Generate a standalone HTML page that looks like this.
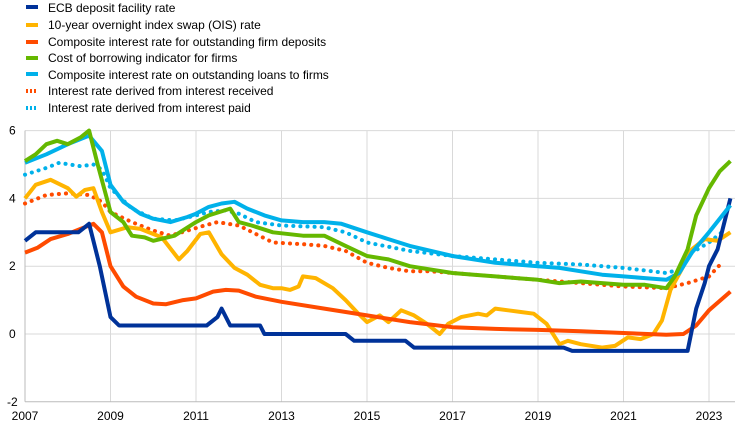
<!DOCTYPE html>
<html><head><meta charset="utf-8"><style>
body{margin:0;background:#fff;}
svg{display:block;font-family:"Liberation Sans",Arial,sans-serif;}
</style></head><body>
<svg id="c" width="744" height="428" xmlns="http://www.w3.org/2000/svg">
<g font-size="12" fill="#000">
<rect x="26" y="5" width="12" height="4" fill="#003299"/><text x="48" y="12">ECB deposit facility rate</text>
<rect x="26" y="23" width="12" height="4" fill="#FFB400"/><text x="48" y="29">10-year overnight index swap (OIS) rate</text>
<rect x="26" y="40" width="12" height="4" fill="#FF4B00"/><text x="48" y="46">Composite interest rate for outstanding firm deposits</text>
<rect x="26" y="56" width="12" height="4" fill="#65B800"/><text x="48" y="62">Cost of borrowing indicator for firms</text>
<rect x="26" y="72" width="12" height="4" fill="#00B1EA"/><text x="48" y="79">Composite interest rate on outstanding loans to firms</text>
<line x1="26" y1="91" x2="38" y2="91" stroke="#FF4B00" stroke-width="4" stroke-dasharray="2 2"/><text x="48" y="95">Interest rate derived from interest received</text>
<line x1="26" y1="108" x2="38" y2="108" stroke="#00B1EA" stroke-width="4" stroke-dasharray="2 2"/><text x="48" y="112">Interest rate derived from interest paid</text>
</g>
<g id="grid" stroke="#d9d9d9" stroke-width="1"></g>
<g id="lab" font-size="12" fill="#000"></g>
<g id="ser" fill="none" stroke-linejoin="round"></g>
</svg>
<script>
var X=function(t){return 25+(t-2007)*42.75},Y=function(v){return 334-v*33.9};
var g=document.getElementById('grid'),l=document.getElementById('lab'),s=document.getElementById('ser');
var h='';
for(var v=-2;v<=6;v+=2){if(v>-2)h+='<line x1="25" x2="735" y1="'+Y(v)+'" y2="'+Y(v)+'"/>';}
for(var t=2009;t<=2023;t+=2)h+='<line x1="'+X(t)+'" x2="'+X(t)+'" y1="'+Y(6)+'" y2="'+Y(-2)+'"/>';
h+='<line x1="25" x2="25" y1="'+Y(6)+'" y2="'+Y(-2)+'" stroke="#bbb"/>';
h+='<line x1="25" x2="735" y1="'+Y(-2)+'" y2="'+Y(-2)+'" stroke="#bbb"/>';
g.innerHTML=h;
var L='';
for(var v=-2;v<=6;v+=2)L+='<text x="'+(v<0?7:9)+'" y="'+(Y(v)+4)+'">'+v+'</text>';
for(var t=2007;t<=2023;t+=2)L+='<text x="'+X(t)+'" y="420" text-anchor="middle">'+t+'</text>';
l.innerHTML=L;
function P(a){var d='';for(var i=0;i<a.length;i+=2)d+=(i?'L':'M')+X(a[i]).toFixed(1)+','+Y(a[i+1]).toFixed(1);return d;}
var S=[
['#00B1EA',1,[2007,4.7,2007.5,4.9,2007.8,5.05,2008.3,4.95,2008.6,5.0,2008.8,4.85,2009,4.3,2009.5,3.7,2010,3.4,2010.5,3.35,2011,3.5,2011.3,3.6,2011.7,3.65,2012,3.55,2012.4,3.3,2013,3.2,2014,3.15,2014.5,3.0,2015,2.7,2016,2.45,2017,2.3,2018,2.2,2019,2.1,2020,2.05,2021,1.95,2022,1.8,2022.3,1.9,2022.6,2.4,2023,2.7,2023.3,3.0]],
['#FF4B00',1,[2007,3.85,2007.5,4.1,2008,4.15,2008.5,4.1,2008.8,3.9,2009,3.6,2009.5,3.3,2010,3.05,2010.4,2.9,2010.8,3.05,2011.2,3.2,2011.5,3.3,2012,3.2,2012.4,2.95,2012.8,2.7,2013.5,2.65,2014,2.6,2014.5,2.45,2015,2.1,2015.5,1.95,2016,1.85,2016.5,1.85,2017,1.8,2018,1.7,2019,1.6,2020,1.5,2021,1.4,2022,1.35,2022.5,1.5,2023,1.7,2023.3,2.1]],
['#FFB400',0,[2007,4.0,2007.25,4.4,2007.6,4.55,2008,4.3,2008.2,4.05,2008.4,4.25,2008.6,4.3,2008.8,3.6,2009,3.0,2009.4,3.15,2009.7,3.1,2010.2,2.85,2010.6,2.2,2010.8,2.45,2011.1,2.95,2011.3,3.0,2011.6,2.35,2011.9,1.95,2012.2,1.75,2012.5,1.45,2012.8,1.35,2013,1.35,2013.2,1.3,2013.4,1.4,2013.5,1.7,2013.8,1.65,2014.2,1.35,2014.5,1.0,2014.8,0.6,2015,0.35,2015.3,0.55,2015.5,0.35,2015.8,0.7,2016.1,0.55,2016.4,0.3,2016.7,0.0,2016.9,0.3,2017.2,0.5,2017.6,0.6,2017.8,0.55,2018.0,0.75,2018.3,0.7,2018.6,0.65,2018.9,0.6,2019.2,0.3,2019.5,-0.3,2019.7,-0.2,2020,-0.3,2020.5,-0.4,2020.8,-0.35,2021.1,-0.1,2021.4,-0.15,2021.7,0.0,2021.9,0.4,2022.1,1.3,2022.4,2.0,2022.6,2.5,2022.9,2.8,2023.2,2.75,2023.5,3.0]],
['#FF4B00',0,[2007,2.4,2007.3,2.55,2007.6,2.8,2008,2.95,2008.3,3.1,2008.6,3.25,2008.8,3.0,2009,2.0,2009.3,1.4,2009.6,1.1,2010,0.9,2010.3,0.88,2010.7,1.0,2011,1.05,2011.4,1.25,2011.7,1.3,2012,1.28,2012.4,1.1,2013,0.95,2014,0.75,2015,0.55,2016,0.35,2017,0.2,2018,0.15,2019,0.12,2020,0.08,2021,0.03,2022,-0.02,2022.4,0.0,2022.7,0.25,2023,0.7,2023.5,1.25]],
['#003299',0,[2007,2.75,2007.25,3.0,2008.25,3.0,2008.5,3.25,2008.75,2.0,2009.0,0.5,2009.2,0.25,2011.25,0.25,2011.5,0.5,2011.6,0.75,2011.8,0.25,2012.5,0.25,2012.6,0,2014.5,0,2014.7,-0.2,2015.9,-0.2,2016.1,-0.4,2019.6,-0.4,2019.8,-0.5,2022.5,-0.5,2022.7,0.75,2022.9,1.5,2023.0,2.0,2023.2,2.5,2023.4,3.5,2023.5,4.0]],
['#00B1EA',0,[2007,5.05,2007.5,5.3,2008,5.6,2008.5,5.85,2008.8,5.4,2009,4.4,2009.3,3.9,2009.7,3.55,2010,3.4,2010.4,3.3,2010.8,3.45,2011,3.55,2011.3,3.75,2011.6,3.85,2011.9,3.9,2012.2,3.7,2012.6,3.5,2013,3.35,2013.5,3.3,2014,3.3,2014.4,3.25,2015,3.0,2015.5,2.8,2016,2.6,2016.5,2.45,2017,2.3,2017.5,2.2,2018,2.1,2018.5,2.05,2019,2.0,2019.5,1.95,2020,1.85,2020.5,1.75,2021,1.7,2021.5,1.65,2022,1.6,2022.3,1.8,2022.6,2.4,2023,3.0,2023.5,3.8]],
['#65B800',0,[2007,5.1,2007.25,5.3,2007.5,5.6,2007.75,5.7,2008,5.6,2008.3,5.8,2008.5,6.0,2008.7,5.0,2009,3.6,2009.3,3.3,2009.5,2.9,2009.8,2.85,2010,2.75,2010.5,2.9,2011,3.3,2011.3,3.5,2011.8,3.7,2012,3.3,2012.3,3.2,2012.8,3.0,2013.5,2.9,2014,2.9,2014.5,2.6,2015,2.3,2015.5,2.2,2016,2.0,2016.5,1.9,2017,1.8,2017.5,1.75,2018,1.7,2018.5,1.65,2019,1.6,2019.5,1.5,2020,1.55,2020.5,1.5,2021,1.45,2021.5,1.45,2022,1.35,2022.2,1.7,2022.5,2.5,2022.7,3.5,2023,4.3,2023.25,4.8,2023.5,5.1]]
];
var o='';
S.forEach(function(q){o+='<path d="'+P(q[2])+'" stroke="'+q[0]+'" stroke-width="'+(q[1]?4:4)+'"'+(q[1]?' stroke-dasharray="0.1 7" stroke-linecap="round"':' stroke-linecap="butt"')+'/>';});
s.innerHTML=o;
</script>
</body></html>
